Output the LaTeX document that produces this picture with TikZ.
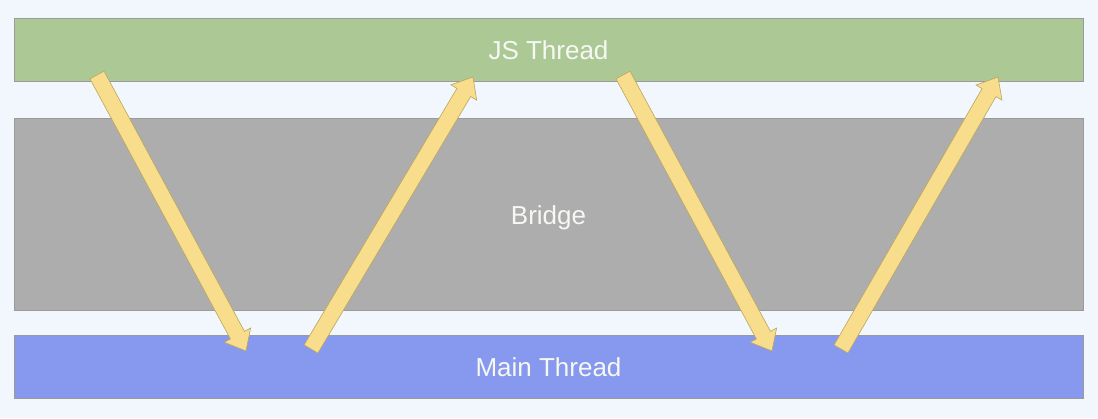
\documentclass[tikz,border=0pt]{standalone}
\usepackage{fontspec}
\setmainfont{Liberation Sans}
\usetikzlibrary{calc}
\definecolor{bgc}{HTML}{F2F6FD}
\definecolor{jsc}{HTML}{ACC895}
\definecolor{brc}{HTML}{ADADAD}
\definecolor{mnc}{HTML}{8799EE}
\definecolor{arf}{HTML}{F7DD8C}
\definecolor{ard}{HTML}{BBA65E}
\definecolor{edc}{HTML}{9A9A9A}
\definecolor{txc}{HTML}{F6F8F4}
\tikzset{
  band/.style={draw=edc, line width=0.6pt, minimum width=1069pt, inner sep=0pt, text=txc,
    font=\fontsize{26}{29}\selectfont, text height=20pt, text depth=0pt},
  fat/.style={fill=arf, draw=ard, line width=0.6pt, line join=miter}
}
\newcommand\fatarrow[2]{%
  \path[fat] let \p1=($(#2)-(#1)$), \n1={atan2(\y1,\x1)}, \n2={veclen(\x1,\y1)} in
    [shift={(#1)}, rotate=\n1]
    (0,-8) -- ({\n2-18},-8) -- ({\n2-18},-15) -- ({\n2},0) -- ({\n2-18},15) -- ({\n2-18},8) -- (0,8) -- cycle;
}
\begin{document}
\begin{tikzpicture}[x=1pt,y=-1pt]
  \fill[bgc] (0,0) rectangle (1098,418);
  \useasboundingbox (0,0) rectangle (1098,418);
  \node[band, fill=jsc, minimum height=63pt] (js) at (548.5,49.5) {JS Thread};
  \node[band, fill=brc, minimum height=192pt] (bridge) at (548.5,214) {Bridge};
  \node[band, fill=mnc, minimum height=63pt] (main) at (548.5,366.5) {Main Thread};
  \coordinate (a1s) at (97,75);
  \coordinate (a1e) at (246,351);
  \coordinate (a2s) at (311,349);
  \coordinate (a2e) at (473,77);
  \coordinate (a3s) at (623,75);
  \coordinate (a3e) at (772,351);
  \coordinate (a4s) at (841,349);
  \coordinate (a4e) at (998,77);
  \fatarrow{a1s}{a1e}
  \fatarrow{a2s}{a2e}
  \fatarrow{a3s}{a3e}
  \fatarrow{a4s}{a4e}
\end{tikzpicture}
\end{document}
